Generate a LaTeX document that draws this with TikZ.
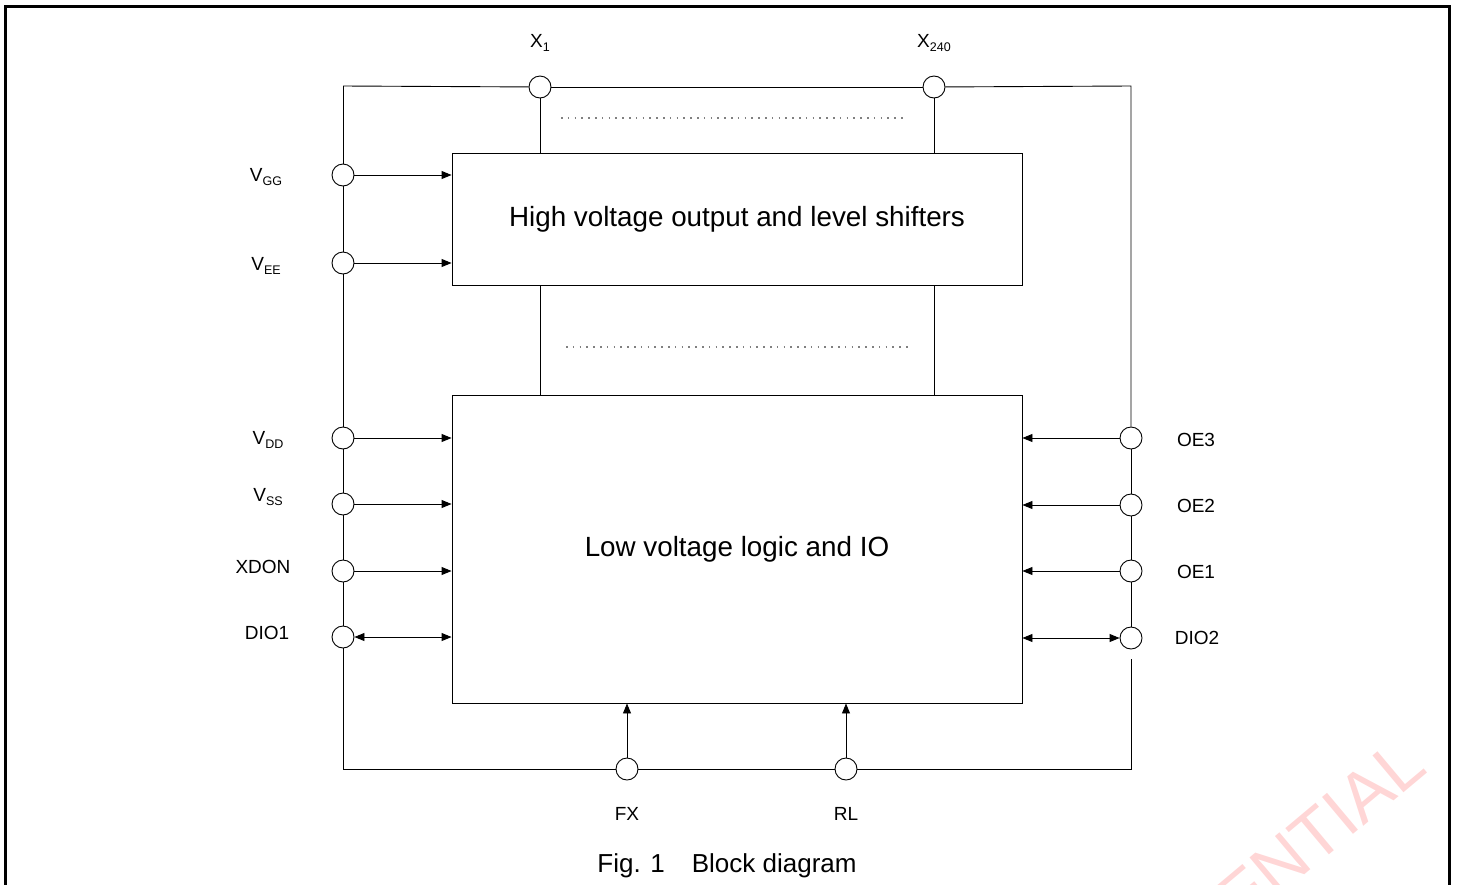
\documentclass[tikz,border=0pt]{standalone}
\usepackage{fontspec}
\setmainfont{Liberation Sans}
\usetikzlibrary{arrows.meta}
\definecolor{wm}{RGB}{255,214,214}
\tikzset{
  pin/.style={circle,draw,fill=white,minimum size=22pt,inner sep=0pt,line width=0.9pt},
  wire/.style={line width=0.9pt},
  sig/.style={line width=0.9pt,-{Triangle[length=10pt,width=8pt]}},
  bisig/.style={line width=0.9pt,{Triangle[length=10pt,width=8pt]}-{Triangle[length=10pt,width=8pt]}},
  blockbox/.style={draw,line width=0.9pt,inner sep=0pt},
  lbl/.style={font=\fontsize{19}{22}\selectfont,inner sep=0pt},
  dots/.style={line width=1.2pt,gray,dash pattern=on 1.6pt off 5.2pt}
}
\newcommand{\sbs}[1]{\raisebox{-0.45ex}{\fontsize{12.5}{12.5}\selectfont #1}}
\begin{document}
\begin{tikzpicture}[x=1pt,y=-1pt]
\useasboundingbox (0,0) rectangle (1457,884);
\begin{scope}
\clip (0,0) rectangle (1457,884);
% watermark
\node[font=\fontsize{70}{70}\selectfont,text=wm,rotate=40,anchor=base east,inner sep=0pt] (wmk) at (1429,771) {CONFIDENTIAL};
% frame
\draw[line width=3pt] (5,910) -- (5,6) -- (1449,6) -- (1449,910);
\end{scope}

% blocks
\node[blockbox,minimum width=570pt,minimum height=132pt] (hv) at (737,219) {};
\node[font=\fontsize{27.8}{32}\selectfont] (hvt) at (737,219) {High voltage output and level shifters};
\node[blockbox,minimum width=570pt,minimum height=308pt] (lv) at (737,549) {};
\node[font=\fontsize{27.8}{32}\selectfont] (lvt) at (737,549) {Low voltage logic and IO};

% corners
\coordinate (ctl) at (343,86);
\coordinate (ctr) at (1131,86);
\coordinate (cbl) at (343,769);
\coordinate (cbr) at (1131,769);
\coordinate (rgap) at (1131,659);

% pins
\node[pin] (x1) at (540,87) {};
\node[pin] (x240) at (934,87) {};
\node[pin] (vgg) at (343,175) {};
\node[pin] (vee) at (343,263) {};
\node[pin] (vdd) at (343,438) {};
\node[pin] (vss) at (343,504) {};
\node[pin] (xdon) at (343,571) {};
\node[pin] (dio1) at (343,637) {};
\node[pin] (oe3) at (1131,438) {};
\node[pin] (oe2) at (1131,505) {};
\node[pin] (oe1) at (1131,571) {};
\node[pin] (dio2) at (1131,638) {};
\node[pin] (fx) at (627,769) {};
\node[pin] (rl) at (846,769) {};

% outer wiring
\draw[wire] (ctl) -- (x1);
\draw[wire] (x1) -- (x240);
\draw[wire] (x240) -- (ctr) -- (oe3);
\draw[wire] (oe3) -- (oe2);
\draw[wire] (oe2) -- (oe1);
\draw[wire] (oe1) -- (dio2);
\draw[wire] (rgap) -- (cbr) -- (rl);
\draw[wire] (rl) -- (fx);
\draw[wire] (fx) -- (cbl) -- (dio1);
\draw[wire] (dio1) -- (xdon);
\draw[wire] (xdon) -- (vss);
\draw[wire] (vss) -- (vdd);
\draw[wire] (vdd) -- (vee);
\draw[wire] (vee) -- (vgg);
\draw[wire] (vgg) -- (ctl);

% internal columns
\draw[wire] (x1) -- (x1 |- hv.north);
\draw[wire] (x240) -- (x240 |- hv.north);
\draw[wire] (x1 |- hv.south) -- (x1 |- lv.north);
\draw[wire] (x240 |- hv.south) -- (x240 |- lv.north);
\coordinate (d1a) at (561,118);
\coordinate (d1b) at (906,118);
\coordinate (d2a) at (566,347);
\coordinate (d2b) at (911,347);
\draw[dots] (d1a) -- (d1b);
\draw[dots] (d2a) -- (d2b);

% signal arrows
\draw[sig] (vgg) -- (hv.west |- vgg);
\draw[sig] (vee) -- (hv.west |- vee);
\draw[sig] (vdd) -- (lv.west |- vdd);
\draw[sig] (vss) -- (lv.west |- vss);
\draw[sig] (xdon) -- (lv.west |- xdon);
\draw[bisig] (dio1) -- (lv.west |- dio1);
\draw[sig] (oe3) -- (lv.east |- oe3);
\draw[sig] (oe2) -- (lv.east |- oe2);
\draw[sig] (oe1) -- (lv.east |- oe1);
\draw[bisig] (dio2) -- (lv.east |- dio2);
\draw[sig] (fx) -- (fx |- lv.south);
\draw[sig] (rl) -- (rl |- lv.south);

% labels
\node[lbl] (lx1) at (540,43) {X\sbs{1}};
\node[lbl] (lx240) at (934,43) {X\sbs{240}};
\node[lbl] (lvgg) at (266,177) {V\sbs{GG}};
\node[lbl] (lvee) at (266,266) {V\sbs{EE}};
\node[lbl] (lvdd) at (268,440) {V\sbs{DD}};
\node[lbl] (lvss) at (268,497) {V\sbs{SS}};
\node[lbl] (lxdon) at (263,567) {XDON};
\node[lbl] (ldio1) at (267,633) {DIO1};
\node[lbl] (loe3) at (1196,440) {OE3};
\node[lbl] (loe2) at (1196,506) {OE2};
\node[lbl] (loe1) at (1196,572) {OE1};
\node[lbl] (ldio2) at (1197,638) {DIO2};
\node[lbl] (lfx) at (627,814) {FX};
\node[lbl] (lrl) at (846,814) {RL};
\node[font=\fontsize{26}{30}\selectfont,inner sep=0pt] (cap) at (727,866) {Fig. 1\hspace{27pt}Block diagram};
\end{tikzpicture}
\end{document}
